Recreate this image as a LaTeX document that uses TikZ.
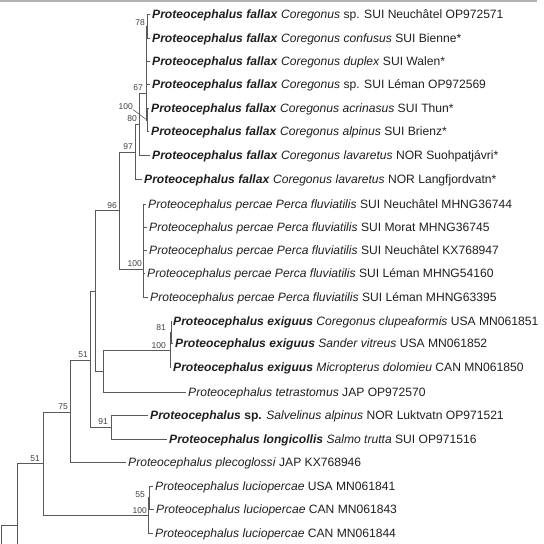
\documentclass[tikz,border=0pt]{standalone}
\usepackage{fontspec}
\setmainfont{Liberation Sans}
\newcommand\tbi[1]{\textbf{\textit{#1}}}
\begin{document}
\begin{tikzpicture}[x=1pt,y=-1pt,
  tip/.style={anchor=west,inner sep=0pt,text height=8.6pt,text depth=0pt,
    font=\fontsize{12.1}{14}\selectfont,text=black!88},
  br/.style={draw=black!65,line width=0.9pt},
  bs/.style={font=\fontsize{8.5}{10}\selectfont,text=black!75,inner sep=0pt,anchor=south east},
  frame/.style={draw=black!30,line width=1.5pt}]
\useasboundingbox (0,0) rectangle (544,544);
% top frame line
\coordinate (tl) at (0,0.75);
\coordinate (tr) at (537,0.75);
\draw[frame] (tl) -- (tr);
% tips
\node[tip] (t1) at (152,14) {\tbi{Proteocephalus fallax} \textit{Coregonus} sp. SUI Neuchâtel OP972571};
\node[tip] (t2) at (152,38) {\tbi{Proteocephalus fallax} \textit{Coregonus confusus} SUI Bienne*};
\node[tip] (t3) at (152,61) {\tbi{Proteocephalus fallax} \textit{Coregonus duplex} SUI Walen*};
\node[tip] (t4) at (152,84) {\tbi{Proteocephalus fallax} \textit{Coregonus} sp. SUI Léman OP972569};
\node[tip] (t5) at (151,108) {\tbi{Proteocephalus fallax} \textit{Coregonus acrinasus} SUI Thun*};
\node[tip] (t6) at (151,131) {\tbi{Proteocephalus fallax} \textit{Coregonus alpinus} SUI Brienz*};
\node[tip] (t7) at (152,155) {\tbi{Proteocephalus fallax} \textit{Coregonus lavaretus} NOR Suohpatjávri*};
\node[tip] (t8) at (144,179) {\tbi{Proteocephalus fallax} \textit{Coregonus lavaretus} NOR Langfjordvatn*};
\node[tip] (t9) at (148,204) {\textit{Proteocephalus percae Perca fluviatilis} SUI Neuchâtel MHNG36744};
\node[tip] (t10) at (149,227) {\textit{Proteocephalus percae Perca fluviatilis} SUI Morat MHNG36745};
\node[tip] (t11) at (149,250) {\textit{Proteocephalus percae Perca fluviatilis} SUI Neuchâtel KX768947};
\node[tip] (t12) at (147,273) {\textit{Proteocephalus percae Perca fluviatilis} SUI Léman MHNG54160};
\node[tip] (t13) at (150,297) {\textit{Proteocephalus percae Perca fluviatilis} SUI Léman MHNG63395};
\node[tip] (t14) at (173,321) {\tbi{Proteocephalus exiguus} \textit{Coregonus clupeaformis} USA MN061851};
\node[tip] (t15) at (175,343) {\tbi{Proteocephalus exiguus} \textit{Sander vitreus} USA MN061852};
\node[tip] (t16) at (173,367) {\tbi{Proteocephalus exiguus} \textit{Micropterus dolomieu} CAN MN061850};
\node[tip] (t17) at (188,392) {\textit{Proteocephalus tetrastomus} JAP OP972570};
\node[tip] (t18) at (150,415) {\textbf{\textit{Proteocephalus} sp.} \textit{Salvelinus alpinus} NOR Luktvatn OP971521};
\node[tip] (t19) at (169,439) {\tbi{Proteocephalus longicollis} \textit{Salmo trutta} SUI OP971516};
\node[tip] (t20) at (128,462) {\textit{Proteocephalus plecoglossi} JAP KX768946};
\node[tip] (t21) at (155,486) {\textit{Proteocephalus luciopercae} USA MN061841};
\node[tip] (t22) at (156,509) {\textit{Proteocephalus luciopercae} CAN MN061843};
\node[tip] (t23) at (155,533) {\textit{Proteocephalus luciopercae} CAN MN061844};
% internal nodes
\coordinate (rb) at (1,546);
\coordinate (n1) at (17,525);
\coordinate (nb) at (17,546);
\coordinate (n51l) at (43,463);
\coordinate (n75) at (70,412);
\coordinate (nl100) at (148,515);
\coordinate (n55) at (149.5,497.5);
\coordinate (n51u) at (90,360);
\coordinate (n91) at (111,427);
\coordinate (nx) at (95,291);
\coordinate (ny) at (103,371);
\coordinate (ne100) at (170,350);
\coordinate (ne81) at (171.5,332);
\coordinate (n96) at (119,210);
\coordinate (np100) at (143,269);
\coordinate (n97) at (135,152);
\coordinate (n80) at (139,124);
\coordinate (n67) at (146,93);
\coordinate (nz) at (146.5,66);
\coordinate (n78) at (147,26);
\coordinate (nf100) at (147,120);
% branches
\draw[br] (rb) |- (n1);
\draw[br] (nb) |- (n51l);
\draw[br] (n51l) |- (n75);
\draw[br] (n51l) |- (nl100);
\draw[br] (n75) |- (n51u);
\draw[br] (n75) |- ([xshift=-2.5pt]t20.west);
\draw[br] (nl100) |- (n55);
\draw[br] (nl100) |- ([xshift=-2.5pt]t23.west);
\draw[br] (n55) |- ([xshift=-2.5pt]t21.west);
\draw[br] (n55) |- ([xshift=-2.5pt]t22.west);
\draw[br] (n51u) |- (nx);
\draw[br] (n51u) |- (n91);
\draw[br] (n91) |- ([xshift=-2.5pt]t18.west);
\draw[br] (n91) |- ([xshift=-2.5pt]t19.west);
\draw[br] (nx) |- (n96);
\draw[br] (nx) |- (ny);
\draw[br] (ny) |- (ne100);
\draw[br] (ny) |- ([xshift=-2.5pt]t17.west);
\draw[br] (ne100) |- (ne81);
\draw[br] (ne100) |- ([xshift=-2.5pt]t16.west);
\draw[br] (ne81) |- ([xshift=-2.5pt]t14.west);
\draw[br] (ne81) |- ([xshift=-2.5pt]t15.west);
\draw[br] (n96) |- (n97);
\draw[br] (n96) |- (np100);
\foreach \t in {t9,t10,t11,t12,t13}{\draw[br] (np100) |- ([xshift=-2.5pt]\t.west);}
\draw[br] (n97) |- (n80);
\draw[br] (n97) |- ([xshift=-2.5pt]t8.west);
\draw[br] (n80) |- (n67);
\draw[br] (n80) |- ([xshift=-2.5pt]t7.west);
\draw[br] (n67) |- (nz);
\draw[br] (n67) |- (nf100);
\draw[br] (nz) |- (n78);
\draw[br] (nz) |- ([xshift=-2.5pt]t3.west);
\draw[br] (nz) |- ([xshift=-2.5pt]t4.west);
\draw[br] (n78) |- ([xshift=-2.5pt]t1.west);
\draw[br] (n78) |- ([xshift=-2.5pt]t2.west);
\draw[br] (nf100) |- ([xshift=-2.5pt]t5.west);
\draw[br] (nf100) |- ([xshift=-2.5pt]t6.west);
% bootstrap labels
\node[bs] (b78) at (145,26) {78};
\node[bs] (b67) at (143,91) {67};
\node[bs] (b100f) at (133,109.5) {100};
\draw[draw=black!65,line width=0.6pt] (b100f.south east) -- (nf100);
\node[bs] (b80) at (137,121.5) {80};
\node[bs] (b97) at (133,150) {97};
\node[bs] (b96) at (117,209) {96};
\node[bs] (bp100) at (142,266.5) {100};
\node[bs] (b81) at (166,331) {81};
\node[bs] (be100) at (166,349) {100};
\node[bs] (b51u) at (88,357.5) {51};
\node[bs] (b75) at (68,409.5) {75};
\node[bs] (b91) at (108,425) {91};
\node[bs] (b51l) at (40,462) {51};
\node[bs] (b55) at (145,498) {55};
\node[bs] (bl100) at (147,514) {100};
\end{tikzpicture}
\end{document}
